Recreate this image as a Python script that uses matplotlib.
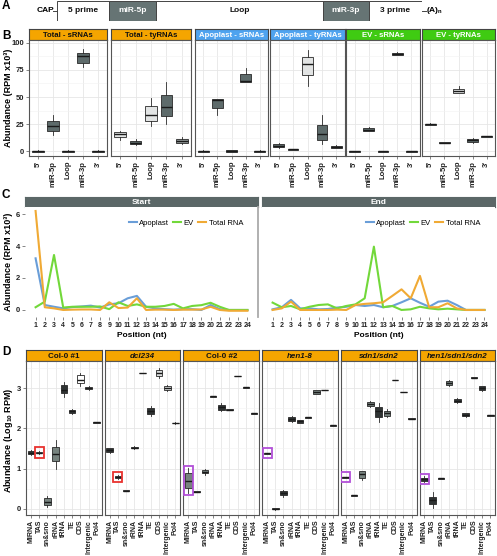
import numpy as np
import matplotlib
matplotlib.use('Agg')
import matplotlib.pyplot as plt
from matplotlib.patches import Rectangle

plt.rcParams['font.family'] = ['Liberation Sans', 'DejaVu Sans']
plt.rcParams['font.weight'] = 'bold'
plt.rcParams['mathtext.default'] = 'regular'

# ---------------- data ----------------
A_segments = ['5 prime', 'miR-5p', 'Loop', 'miR-3p', '3 prime']
A_lengths = [52, 47, 167, 46, 53]
A_dark = [False, True, False, True, False]

B_panels = ['Total - sRNAs', 'Total - tyRNAs', 'Apoplast - sRNAs',
            'Apoplast - tyRNAs', 'EV - sRNAs', 'EV - tyRNAs']
B_strip_colors = ['#f5a500', '#f5a500', '#4fa3ef', '#4fa3ef', '#3fcb12', '#3fcb12']
B_strip_text = ['#111111', '#111111', 'white', 'white', 'white', 'white']
B_regions = ["5'", 'miR-5p', 'Loop', 'miR-3p', "3'"]
B_lo = [[-0.8, 14.8, -0.8, 77.3, -0.8],
        [10.8, 6.0, 23.4, 25.0, 7.0],
        [-0.5, 33.9, -0.5, 63.5, -0.5],
        [3.5, 1.1, 60.6, 6.5, 2.7],
        [-0.6, 18.5, -0.6, 88.5, -0.6],
        [24.3, 7.6, 53.5, 8.0, 13.2]]
B_q1 = [[-0.5, 19.1, -0.5, 81.5, -0.5],
        [13.5, 6.5, 28.0, 32.6, 8.0],
        [-0.3, 40.3, -0.3, 63.7, -0.3],
        [3.7, 1.3, 70.4, 10.4, 3.1],
        [-0.4, 19.0, -0.4, 89.0, -0.4],
        [24.5, 7.8, 53.8, 9.0, 13.5]]
B_med = [[0.0, 23.4, 0.0, 87.7, 0.0],
         [16.0, 8.0, 33.2, 40.9, 9.9],
         [0.2, 47.5, 0.3, 64.3, 0.2],
         [4.5, 1.8, 80.6, 15.7, 4.0],
         [0.0, 20.0, 0.0, 89.8, 0.0],
         [25.0, 8.0, 55.5, 10.0, 13.8]]
B_q3 = [[0.5, 28.3, 0.5, 90.8, 0.5],
        [17.5, 9.5, 41.5, 52.3, 11.7],
        [0.7, 48.0, 0.8, 70.8, 0.7],
        [6.5, 2.3, 87.0, 24.6, 5.2],
        [0.4, 21.5, 0.4, 90.5, 0.4],
        [25.5, 8.3, 57.5, 11.7, 14.2]]
B_hi = [[0.8, 33.9, 0.8, 94.2, 0.8],
        [18.3, 11.5, 49.2, 63.7, 13.5],
        [0.9, 48.5, 1.0, 76.9, 0.9],
        [7.5, 2.5, 93.0, 33.2, 5.4],
        [0.6, 22.0, 0.6, 91.2, 0.6],
        [25.8, 8.5, 60.0, 12.0, 14.5]]
B_shade = [['d', 'd', 'd', 'd', 'd'],
           ['l', 'd', 'l', 'd', 'm'],
           ['d', 'd', 'd', 'd', 'd'],
           ['d', 'd', 'l', 'd', 'd'],
           ['d', 'd', 'd', 'd', 'd'],
           ['d', 'd', 'l', 'd', 'd']]

C_panels = ['Start', 'End']
C_positions = list(range(1, 25))
C_series = ['Apoplast', 'EV', 'Total RNA']
C_colors = ['#6a9ed8', '#72d83a', '#f0aa35']
C_start_apoplast = [3.23, 0.31, 0.2, 0.1, 0.18, 0.22, 0.27, 0.15, 0.35, 0.42, 0.73, 0.88,
                    0.2, 0.1, 0.05, 0.02, 0.05, 0.05, 0.0, 0.31, 0.05, 0.0, 0.0, 0.0]
C_start_ev = [0.17, 0.52, 3.44, 0.15, 0.2, 0.2, 0.2, 0.22, 0.05, 0.48, 0.25, 0.35,
              0.2, 0.2, 0.25, 0.38, 0.1, 0.25, 0.3, 0.45, 0.2, 0.0, 0.0, 0.0]
C_start_total = [6.19, 0.17, 0.1, 0.0, 0.02, 0.03, 0.03, 0.0, 0.48, 0.12, 0.15, 0.73,
                 0.0, 0.02, 0.02, 0.0, 0.02, 0.02, 0.03, 0.2, 0.0, -0.05, -0.05, -0.05]
C_end_apoplast = [0.04, 0.17, 0.63, 0.1, 0.1, 0.04, 0.06, 0.15, 0.2, 0.31, 0.25, 0.31,
                  0.17, 0.25, 0.48, 0.73, 0.45, 0.2, 0.52, 0.58, 0.31, 0.0, 0.0, 0.0]
C_end_ev = [0.46, 0.17, 0.25, 0.04, 0.2, 0.31, 0.35, 0.1, 0.25, 0.35, 0.73, 3.96,
            0.17, 0.25, 0.0, 0.04, 0.2, 0.1, 0.04, 0.08, 0.04, 0.0, 0.0, 0.0]
C_end_total = [0.0, 0.1, 0.52, 0.0, 0.0, 0.0, 0.0, 0.02, 0.0, 0.31, 0.38, 0.42,
               0.48, 0.88, 1.29, 0.73, 2.13, 0.17, 0.17, 0.42, 0.1, 0.0, 0.0, 0.0]

D_panels = ['Col-0 #1', 'dcl234', 'Col-0 #2', 'hen1-8', 'sdn1/sdn2', 'hen1/sdn1/sdn2']
D_italic = [False, True, False, True, True, True]
D_cats = ['MIRNA', 'TAS', 'sn&sno', 'rRNA', 'tRNA', 'TE', 'CDS', 'Intergenic', 'Pol4']
D_lo = [[1.35, 1.37, 0.04, 1.0, 2.78, 2.35, 3.05, 2.95, 2.14],
        [1.38, 0.75, 0.44, 1.49, 3.36, 2.30, 3.25, 2.93, 2.11],
        [0.39, 0.42, 0.85, 2.78, 2.42, 2.45, 3.29, 3.01, 2.36],
        [1.36, -0.02, 0.30, 2.16, 2.12, 2.26, 2.84, 2.94, 2.07],
        [0.78, 0.33, 0.73, 2.52, 2.15, 2.28, 3.19, 2.89, 2.23],
        [0.66, 0.03, 0.75, 3.05, 2.64, 2.28, 3.25, 2.93, 2.31]]
D_q1 = [[1.37, 1.38, 0.10, 1.20, 2.87, 2.38, 3.12, 2.97, 2.14],
        [1.41, 0.76, 0.44, 1.50, 3.36, 2.36, 3.30, 2.95, 2.12],
        [0.51, 0.42, 0.88, 2.78, 2.46, 2.45, 3.29, 3.01, 2.36],
        [1.37, -0.01, 0.34, 2.19, 2.14, 2.26, 2.86, 2.94, 2.07],
        [0.78, 0.33, 0.78, 2.55, 2.28, 2.31, 3.19, 2.89, 2.23],
        [0.70, 0.12, 0.75, 3.08, 2.66, 2.30, 3.25, 2.95, 2.31]]
D_med = [[1.40, 1.40, 0.18, 1.36, 2.95, 2.43, 3.20, 3.00, 2.15],
         [1.46, 0.79, 0.45, 1.52, 3.37, 2.44, 3.37, 3.00, 2.13],
         [0.70, 0.43, 0.92, 2.79, 2.52, 2.46, 3.30, 3.02, 2.37],
         [1.38, 0.00, 0.39, 2.24, 2.17, 2.27, 2.90, 2.95, 2.08],
         [0.79, 0.34, 0.86, 2.61, 2.42, 2.38, 3.20, 2.90, 2.24],
         [0.74, 0.23, 0.76, 3.13, 2.69, 2.34, 3.26, 3.00, 2.32]]
D_q3 = [[1.43, 1.42, 0.26, 1.53, 3.08, 2.46, 3.32, 3.03, 2.16],
        [1.50, 0.82, 0.46, 1.54, 3.38, 2.51, 3.45, 3.05, 2.14],
        [0.89, 0.44, 0.96, 2.80, 2.58, 2.47, 3.31, 3.03, 2.38],
        [1.39, 0.02, 0.44, 2.28, 2.20, 2.28, 2.94, 2.96, 2.09],
        [0.80, 0.35, 0.93, 2.65, 2.52, 2.44, 3.21, 2.91, 2.25],
        [0.78, 0.30, 0.77, 3.17, 2.72, 2.37, 3.27, 3.04, 2.33]]
D_hi = [[1.45, 1.43, 0.32, 1.70, 3.15, 2.48, 3.37, 3.05, 2.16],
        [1.52, 0.83, 0.46, 1.55, 3.38, 2.55, 3.50, 3.07, 2.15],
        [1.01, 0.44, 1.00, 2.80, 2.62, 2.47, 3.31, 3.03, 2.38],
        [1.40, 0.03, 0.48, 2.30, 2.21, 2.28, 2.96, 2.96, 2.09],
        [0.80, 0.35, 0.95, 2.68, 2.62, 2.47, 3.21, 2.91, 2.25],
        [0.82, 0.42, 0.77, 3.20, 2.74, 2.39, 3.27, 3.06, 2.33]]
D_shade = [['d', 'g', 'g', 'g', 'd', 'd', 'w', 'l', 'd'],
           ['d', 'g', 'd', 'd', 'd', 'd', 'l', 'l', 'd'],
           ['g', 'd', 'g', 'd', 'd', 'd', 'd', 'd', 'd'],
           ['d', 'd', 'd', 'd', 'd', 'd', 'g', 'd', 'd'],
           ['d', 'd', 'g', 'g', 'd', 'g', 'd', 'd', 'd'],
           ['d', 'd', 'd', 'g', 'd', 'd', 'd', 'd', 'd']]
D_highlight_panel = [0, 1, 2, 3, 4, 5]
D_highlight_cat = ['TAS', 'TAS', 'MIRNA', 'MIRNA', 'MIRNA', 'MIRNA']
D_highlight_color = ['#e8322e', '#e8322e', '#b24fd8', '#b24fd8', '#b24fd8', '#b24fd8']

# ---------------- layout helpers ----------------
W, H = 497, 556
fig = plt.figure(figsize=(W / 100, H / 100), dpi=100)


def add_ax(x0, y0, x1, y1):
    return fig.add_axes([x0 / W, 1 - y1 / H, (x1 - x0) / W, (y1 - y0) / H])


def strip(x0, y0, x1, y1, label, fc, tc, italic=False, ec='#444444', fs=5.8):
    s = add_ax(x0, y0, x1, y1)
    s.set_facecolor(fc)
    s.set_xticks([])
    s.set_yticks([])
    for sp in s.spines.values():
        sp.set_color(ec)
        sp.set_linewidth(0.8)
    s.text(0.5, 0.45, label, ha='center', va='center', color=tc, fontsize=fs,
           fontweight='bold', style='italic' if italic else 'normal',
           transform=s.transAxes)
    return s


def style(ax, border=True):
    for sp in ax.spines.values():
        sp.set_color('#555555' if border else 'none')
        sp.set_linewidth(0.8)
    ax.tick_params(length=2, width=0.5, color='#555555', labelsize=5.5,
                   labelcolor='#222222', pad=1.5)
    ax.set_axisbelow(True)


SHADES = {'d': '#5e6b6b', 'm': '#939b9b', 'l': '#e2e4e4'}
DSHADES = {'d': '#2f3333', 'g': '#77837f', 'l': '#d9dcdc', 'w': '#ffffff'}


def boxes(ax, lo, q1, med, q3, hi, fills, width):
    stats = [dict(whislo=a, q1=b, med=c, q3=d, whishi=e, fliers=[])
             for a, b, c, d, e in zip(lo, q1, med, q3, hi)]
    pos = np.arange(1, len(stats) + 1)
    r = ax.bxp(stats, positions=pos, widths=width, patch_artist=True,
               showfliers=False,
               boxprops=dict(edgecolor='#2a2a2a', linewidth=0.6),
               medianprops=dict(color='#1a1a1a', linewidth=1.0),
               whiskerprops=dict(color='#2a2a2a', linewidth=0.6),
               capprops=dict(linewidth=0))
    for patch, fc in zip(r['boxes'], fills):
        patch.set_facecolor(fc)
    return pos


# ---------------- panel A ----------------
axA = add_ax(57.3, 1, 421.7, 21)
lefts = np.concatenate([[0], np.cumsum(A_lengths)[:-1]])
axA.barh([0], A_lengths, left=lefts, height=1.0,
         color=['#667474' if d else 'white' for d in A_dark],
         edgecolor='#444444', linewidth=0.7)
for seg, l, w, d in zip(A_segments, lefts, A_lengths, A_dark):
    axA.text(l + w / 2, 0, seg, ha='center', va='center', fontsize=6,
             fontweight='bold', color='white' if d else '#111111')
axA.set_xlim(0, sum(A_lengths))
axA.set_ylim(-0.5, 0.5)
axA.axis('off')
fig.text(37 / W, 1 - 11 / H, 'CAP', fontsize=6, fontweight='bold', va='center', ha='left')
fig.add_artist(plt.Line2D([52.5 / W, 57.3 / W], [1 - 11 / H, 1 - 11 / H], color='#444444', lw=0.7))
fig.add_artist(plt.Line2D([421.7 / W, 425.5 / W], [1 - 11 / H, 1 - 11 / H], color='#444444', lw=0.7))
fig.text(426 / W, 1 - 11 / H, '(A)$_n$', fontsize=6, fontweight='bold', va='center', ha='left')

# ---------------- panel B ----------------
b_left = [29, 111, 195, 270, 346, 422]
b_right = [107, 191, 268, 345, 420, 495]
for i, name in enumerate(B_panels):
    strip(b_left[i], 29, b_right[i], 40, name, B_strip_colors[i], B_strip_text[i], fs=5.6)
    ax = add_ax(b_left[i], 40, b_right[i], 156)
    style(ax)
    pos = boxes(ax, B_lo[i], B_q1[i], B_med[i], B_q3[i], B_hi[i],
                [SHADES[s] for s in B_shade[i]], 0.75)
    ax.set_xlim(0.4, 5.6)
    ax.set_ylim(-4.3, 102.5)
    ax.set_yticks([0, 25, 50, 75, 100])
    ax.set_yticks([12.5, 37.5, 62.5, 87.5], minor=True)
    ax.set_xticks(pos)
    ax.set_xticklabels(B_regions, rotation=90, fontsize=5.5, fontweight='bold')
    ax.grid(True, which='major', color='#e6e6e6', lw=0.6)
    ax.grid(True, which='minor', axis='y', color='#f2f2f2', lw=0.4)
    ax.tick_params(which='minor', length=0)
    if i > 0:
        ax.set_yticklabels([])
        ax.tick_params(axis='y', length=0)
    else:
        for t in ax.get_yticklabels():
            t.set_fontweight('bold')
fig.text(9 / W, 1 - 98 / H, 'Abundance (RPM x10\u00b3)', rotation=90, ha='center',
         va='center', fontsize=6.5, fontweight='bold')

# ---------------- panel C ----------------
c_left = [25, 262]
c_right = [258, 495]
c_data = [[C_start_apoplast, C_start_ev, C_start_total],
          [C_end_apoplast, C_end_ev, C_end_total]]
for i, name in enumerate(C_panels):
    strip(c_left[i], 197, c_right[i], 207, name, '#5b6767', 'white', ec='#5b6767', fs=6)
    ax = add_ax(c_left[i], 207, c_right[i], 317)
    style(ax, border=False)
    for s, col, ys in zip(C_series, C_colors, c_data[i]):
        ax.plot(C_positions, ys, color=col, lw=1.5, label=s)
    ax.set_xlim(-0.15, 25.15)
    ax.set_ylim(-0.44, 6.44)
    ax.set_xticks(C_positions)
    ax.set_xticklabels([str(p) for p in C_positions], fontsize=5, fontweight='bold')
    ax.set_yticks([0, 2, 4, 6])
    ax.set_xlabel('Position (nt)', fontsize=6, fontweight='bold', labelpad=2)
    if i == 0:
        for t in ax.get_yticklabels():
            t.set_fontweight('bold')
        ax.spines['right'].set_color('#aaaaaa')
        ax.spines['right'].set_linewidth(1.3)
    else:
        ax.set_yticklabels([])
        ax.tick_params(axis='y', length=0)
    ax.legend(loc='center', bbox_to_anchor=(0.69, 0.855), ncol=3, frameon=False,
              handlelength=1.1, handletextpad=0.3, columnspacing=0.5,
              borderpad=0, prop=dict(size=5.5, weight='normal'))
fig.text(9 / W, 1 - 262 / H, 'Abundance (RPM x10\u00b3)', rotation=90, ha='center',
         va='center', fontsize=6.5, fontweight='bold')

# ---------------- panel D ----------------
for i, name in enumerate(D_panels):
    x0 = 26 + i * 78.7
    x1 = x0 + 75.7
    strip(x0, 350, x1, 361, name, '#f5a500', '#111111', italic=D_italic[i], fs=5.8)
    ax = add_ax(x0, 361, x1, 515)
    style(ax)
    pos = boxes(ax, D_lo[i], D_q1[i], D_med[i], D_q3[i], D_hi[i],
                [DSHADES[s] for s in D_shade[i]], 0.8)
    ax.set_xlim(0.4, 9.6)
    ax.set_ylim(-0.15, 3.67)
    ax.set_yticks([0, 1, 2, 3])
    ax.set_yticks([0.5, 1.5, 2.5, 3.5], minor=True)
    ax.set_xticks(pos)
    ax.set_xticklabels(D_cats, rotation=90, fontsize=5, fontweight='bold')
    ax.grid(True, which='major', color='#e6e6e6', lw=0.6)
    ax.grid(True, which='minor', axis='y', color='#f2f2f2', lw=0.4)
    ax.tick_params(which='minor', length=0)
    if i > 0:
        ax.set_yticklabels([])
        ax.tick_params(axis='y', length=0)
    else:
        for t in ax.get_yticklabels():
            t.set_fontweight('bold')
    for p, c, col in zip(D_highlight_panel, D_highlight_cat, D_highlight_color):
        if p == i:
            k = D_cats.index(c)
            y0 = D_lo[i][k] - 0.05
            y1 = D_hi[i][k] + 0.05
            if y1 - y0 < 0.25:
                mid = (y0 + y1) / 2
                y0, y1 = mid - 0.125, mid + 0.125
            ax.add_patch(Rectangle((k + 1 - 0.55, y0), 1.1, y1 - y0, fill=False,
                                   edgecolor=col, lw=1.3, zorder=5))
fig.text(9 / W, 1 - 440 / H, 'Abundance (Log$_{10}$ RPM)', rotation=90, ha='center',
         va='center', fontsize=6.5, fontweight='bold')

# ---------------- panel letters ----------------
for lab, y in zip(['A', 'B', 'C', 'D'], [6, 36, 195, 352]):
    fig.text(2 / W, 1 - y / H, lab, fontsize=8.5, fontweight='bold', va='center', ha='left')

fig.savefig('out.png', dpi=100)
